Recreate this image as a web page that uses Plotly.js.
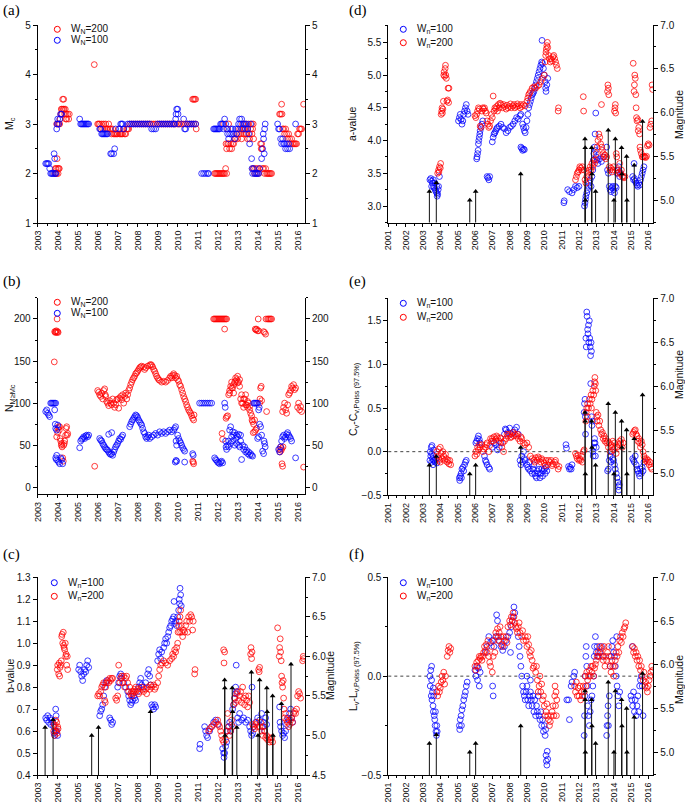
<!DOCTYPE html>
<html><head><meta charset="utf-8">
<script src="https://cdn.plot.ly/plotly-3.0.1.min.js"></script>
<style>html,body{margin:0;padding:0;background:#fff}#plot{width:685px;height:802px}</style>
</head><body><div id="plot"></div>
<script>
// ---- data: [decimal year, value] ----
const mcW200 = [[2003.85,2.0],[2003.88,2.1],[2003.9,2.0],[2003.92,2.1],[2003.95,2.0],[2003.97,2.3],[2004.0,2.1],[2004.02,2.0],[2004.05,2.1],[2004.08,2.1],[2003.95,3.0],[2004.0,3.0],[2004.05,3.0],[2004.1,3.0],[2004.12,3.1],[2004.15,3.2],[2004.18,3.3],[2004.2,3.2],[2004.22,3.3],[2004.25,3.5],[2004.28,3.3],[2004.3,3.5],[2004.32,3.3],[2004.35,3.2],[2004.38,3.3],[2004.4,3.1],[2004.42,3.2],[2004.45,3.1],[2004.5,3.2],[2004.55,3.1],[2004.58,3.2],
[2005.83,4.2],
[2006.0,3.0],[2006.05,3.0],[2006.1,3.0],[2006.15,2.9],[2006.2,3.0],[2006.25,2.9],[2006.3,3.0],[2006.35,2.9],[2006.4,3.0],[2006.45,2.9],[2006.5,2.9],[2006.55,3.0],[2006.6,2.9],[2006.65,2.9],[2006.7,2.8],[2006.75,2.9],[2006.8,2.8],[2006.85,2.8],[2006.9,2.8],[2006.95,2.8],[2007.0,2.8],[2007.05,2.9],[2007.1,2.8],[2007.15,2.8],[2007.2,2.8],[2007.25,2.8],[2007.3,2.9],[2007.35,2.8],[2007.4,2.8],[2007.45,2.9],[2007.5,2.9],[2007.55,2.9],
[2007.6,3.0],[2007.7,3.0],[2007.8,3.0],[2007.9,3.0],[2008.0,3.0],[2008.1,3.0],[2008.2,3.0],[2008.3,3.0],[2008.4,3.0],[2008.5,3.0],[2008.6,3.0],[2008.7,3.0],[2008.8,3.0],[2008.9,3.0],[2009.0,3.0],[2009.1,3.0],[2009.2,3.0],[2009.3,3.0],[2009.4,3.0],[2009.5,3.0],[2009.6,3.0],[2009.7,3.0],[2009.8,3.0],[2009.9,3.0],[2010.0,3.0],[2010.1,3.0],[2010.2,3.0],[2010.3,3.0],[2010.4,3.0],[2010.5,3.0],[2010.6,3.0],[2010.7,3.0],[2010.8,3.0],[2010.9,3.0],
[2010.75,3.5],[2010.8,3.5],[2010.85,3.5],[2010.9,3.5],[2010.93,2.9],
[2011.85,2.0],[2011.9,2.0],[2011.95,2.0],[2012.0,2.0],[2012.05,2.0],[2012.1,2.0],[2012.15,2.0],[2012.2,2.0],[2012.25,2.0],[2012.3,2.0],[2012.35,2.0],[2012.4,2.1],[2012.45,2.0],
[2012.42,2.6],[2012.45,2.5],[2012.5,2.6],[2012.55,2.6],[2012.6,2.5],[2012.65,2.6],[2012.7,2.5],[2012.75,2.6],[2012.8,2.6],[2012.5,2.9],[2012.55,3.0],[2012.3,3.0],
[2012.85,2.7],[2012.9,2.7],[2012.95,2.8],[2013.0,2.7],[2013.05,2.8],[2013.1,2.9],[2013.15,2.8],[2013.2,2.9],[2013.25,3.0],[2013.3,2.8],[2013.35,2.9],[2013.4,3.0],[2013.45,2.8],[2013.5,2.9],[2013.55,3.0],[2013.6,2.8],[2013.65,2.9],[2013.7,3.0],[2013.2,2.7],[2013.3,2.9],[2013.4,2.8],[2013.5,2.7],[2013.6,2.7],[2013.72,2.8],[2013.75,2.9],[2013.78,3.0],[2013.8,2.7],
[2013.75,2.1],[2013.8,2.1],[2013.85,2.0],[2013.9,2.1],[2013.95,2.0],[2014.0,2.1],[2014.05,2.0],[2014.1,2.1],[2014.15,2.6],[2014.18,2.5],[2014.2,2.6],[2014.22,2.5],[2014.25,2.1],[2014.3,2.1],[2014.35,2.0],[2014.4,2.1],[2014.45,2.0],[2014.5,2.0],[2014.55,2.0],[2014.6,2.0],[2014.65,2.0],[2014.7,2.0],
[2015.1,3.2],[2015.15,3.2],[2015.2,3.4],[2015.22,3.2],[2015.25,2.9],[2015.3,2.9],[2015.35,2.8],[2015.4,2.9],[2015.45,2.8],[2015.5,2.7],[2015.55,2.8],[2015.6,2.7],[2015.65,2.6],[2015.7,2.7],[2015.75,2.6],[2015.8,2.6],[2015.85,2.6],[2015.9,2.6],[2015.95,2.6],[2016.0,2.8],[2016.05,2.8],[2016.1,2.9],[2016.15,2.9],[2016.2,2.9],[2016.3,3.4]];
const mcW100 = [[2003.4,2.2],[2003.45,2.2],[2003.5,2.2],[2003.55,2.2],[2003.6,2.1],[2003.65,2.0],[2003.7,2.0],[2003.75,2.0],[2003.8,2.0],[2003.82,2.4],[2003.85,2.3],[2003.88,2.0],[2003.9,2.0],[2003.95,2.9],[2003.97,3.0],[2004.0,3.1],[2004.05,3.0],[2004.1,3.1],[2004.15,3.2],[2004.2,3.2],
[2005.1,3.1],[2005.15,3.0],[2005.2,3.0],[2005.25,3.0],[2005.3,3.0],[2005.35,3.0],[2005.4,3.0],[2005.45,3.0],[2005.5,3.0],[2005.55,3.0],
[2006.1,2.9],[2006.15,2.9],[2006.2,2.8],[2006.25,2.8],[2006.3,2.8],[2006.35,2.8],[2006.4,2.8],[2006.45,2.8],[2006.5,2.8],
[2006.65,2.4],[2006.7,2.4],[2006.8,2.4],[2006.85,2.5],[2006.9,2.9],
[2007.1,2.9],[2007.15,3.0],[2007.2,3.0],[2007.25,3.0],[2007.3,2.9],
[2007.5,3.0],[2007.6,3.0],[2007.7,3.0],[2007.8,3.0],[2007.9,3.0],[2008.0,3.0],[2008.1,3.0],[2008.2,3.0],[2008.3,3.0],[2008.4,3.0],[2008.5,3.0],[2008.6,3.0],[2008.7,2.9],[2008.8,2.9],[2008.9,2.9],[2009.0,3.0],[2009.1,3.0],[2009.2,3.0],[2009.3,3.0],[2009.4,3.0],[2009.5,3.0],[2009.6,3.0],[2009.7,3.0],[2009.8,3.0],[2009.85,3.0],[2009.9,3.1],[2009.92,3.2],[2009.95,3.3],[2010.0,3.3],[2010.02,3.2],[2010.05,3.0],[2010.3,3.1],[2010.35,2.9],[2010.4,2.9],[2010.5,3.0],[2010.6,3.0],[2010.7,3.0],[2010.8,3.0],[2010.9,3.0],
[2011.2,2.0],[2011.3,2.0],[2011.4,2.0],[2011.5,2.0],[2011.55,2.0],
[2011.8,2.9],[2011.85,2.9],[2011.9,2.9],[2011.95,2.9],[2012.0,2.9],[2012.05,2.9],[2012.1,2.9],[2012.15,3.0],[2012.2,3.0],[2012.25,3.0],[2012.3,2.9],[2012.35,3.1],[2012.4,3.0],[2012.45,2.9],[2012.5,2.8],[2012.55,2.7],[2012.6,2.8],[2012.65,2.9],[2012.7,2.8],[2012.75,2.9],[2012.8,2.8],[2012.85,2.7],[2012.9,2.9],[2012.95,2.8],
[2013.0,2.9],[2013.05,3.0],[2013.1,3.1],[2013.15,3.0],[2013.2,3.1],[2013.25,2.9],[2013.3,3.0],[2013.35,3.0],[2013.4,2.9],[2013.45,3.0],[2013.5,2.9],[2013.55,2.8],[2013.6,2.6],[2013.65,3.0],[2013.7,2.3],[2013.72,2.1],[2013.75,2.0],[2013.8,2.1],[2013.85,2.0],[2013.9,2.0],[2013.95,2.0],[2014.0,2.0],[2014.05,2.0],[2014.1,2.1],
[2014.2,2.3],[2014.25,2.5],[2014.28,2.8],[2014.3,2.7],[2014.33,2.4],[2014.35,2.9],[2014.38,3.0],
[2015.0,3.0],[2015.05,2.9],[2015.1,2.9],[2015.15,2.7],[2015.2,2.6],[2015.25,2.7],[2015.3,2.6],[2015.35,2.6],[2015.4,2.5],[2015.45,2.6],[2015.5,2.5],[2015.55,2.6],[2015.6,2.5],[2015.9,3.0]];

const nW200 = [[2003.83,149],[2003.85,185],[2003.88,184],[2003.9,185],[2003.93,186],[2003.95,184],[2003.97,200],[2004.0,185],[2004.02,184],
[2003.95,60],[2004.0,65],[2004.02,70],[2004.05,72],[2004.08,68],[2004.1,72],[2004.12,58],[2004.15,55],[2004.18,50],[2004.2,52],[2004.22,48],[2004.25,35],[2004.28,31],[2004.3,50],[2004.33,52],[2004.35,55],[2004.4,62],[2004.42,70],[2004.45,72],[2004.48,62],[2004.5,64],
[2005.85,25],
[2006.0,115],[2006.05,113],[2006.1,110],[2006.15,108],[2006.2,112],[2006.25,105],[2006.3,115],[2006.35,117],[2006.38,110],[2006.4,108],[2006.45,102],[2006.5,100],[2006.55,97],[2006.6,103],[2006.65,100],[2006.7,98],[2006.75,105],[2006.8,100],[2006.85,95],[2006.9,98],[2006.95,104],[2007.0,105],[2007.05,94],[2007.1,106],[2007.15,108],[2007.2,104],[2007.25,110],[2007.3,100],[2007.35,108],[2007.4,112],[2007.45,105],[2007.5,110],[2007.55,115],[2007.6,118],[2007.65,122],[2007.7,125],[2007.75,128],[2007.8,130],[2007.85,132],[2007.9,135],[2007.95,136],[2008.0,138],[2008.05,140],[2008.1,142],[2008.15,143],[2008.2,144],[2008.3,143],[2008.35,140],[2008.4,142],[2008.5,144],[2008.6,145],[2008.65,146],[2008.7,145],[2008.75,143],[2008.8,140],[2008.85,138],[2008.9,135],[2008.95,132],[2009.0,130],[2009.05,128],[2009.1,127],[2009.2,125],[2009.3,126],[2009.4,125],[2009.5,127],[2009.6,130],[2009.65,132],[2009.7,130],[2009.75,133],[2009.8,135],[2009.85,133],[2009.9,130],[2009.95,132],[2010.0,128],[2010.05,126],[2010.1,122],[2010.15,120],[2010.2,116],[2010.25,112],[2010.3,108],[2010.35,105],[2010.4,102],[2010.45,98],[2010.5,95],[2010.55,92],[2010.6,90],[2010.65,88],[2010.7,85],[2010.75,82],[2010.8,80],[2010.82,86],[2010.78,30],[2010.8,28],[2010.75,31],
[2011.8,200],[2011.85,200],[2011.9,200],[2011.95,200],[2012.0,200],[2012.05,200],[2012.1,200],[2012.15,200],[2012.2,200],[2012.25,200],[2012.3,200],[2012.35,200],[2012.4,200],[2012.45,200],[2012.35,188],
[2012.22,64],[2012.25,57],
[2012.42,82],[2012.45,84],[2012.5,85],[2012.55,110],[2012.6,115],[2012.65,120],[2012.7,125],[2012.75,118],[2012.8,112],[2012.85,125],[2012.9,130],[2012.95,128],[2013.0,132],[2013.05,125],[2013.1,128],[2013.15,105],[2013.2,110],[2013.25,100],[2013.3,95],[2013.35,105],[2013.4,110],[2013.45,98],[2013.5,95],[2013.55,100],[2013.6,92],[2013.65,88],[2013.7,85],[2013.72,80],[2013.75,78],[2013.8,75],[2013.85,80],[2013.78,65],[2013.85,66],[2013.9,68],[2013.95,70],
[2012.6,112],[2012.7,118],[2012.8,122],[2012.9,126],[2013.0,124],[2013.1,120],[2013.2,100],[2013.3,105],[2013.4,98],[2013.5,102],[2013.6,96],
[2013.88,188],[2013.92,187],[2013.95,188],[2014.0,186],[2014.05,186],[2014.03,200],
[2014.1,100],[2014.12,105],[2014.15,118],[2014.18,120],[2014.2,103],
[2014.3,185],[2014.35,184],[2014.4,182],[2014.42,200],[2014.5,200],[2014.55,200],[2014.6,200],[2014.65,200],[2014.7,200],[2014.45,90],
[2015.1,45],[2015.12,42],[2015.15,48],[2015.18,44],[2015.2,46],[2015.22,28],[2015.25,25],[2015.27,48],
[2015.25,90],[2015.3,95],[2015.35,100],[2015.4,92],[2015.45,88],[2015.5,98],[2015.55,110],[2015.6,112],[2015.65,115],[2015.7,120],[2015.75,118],[2015.8,122],[2015.85,116],[2015.9,118],
[2016.0,95],[2016.05,100],[2016.1,92],[2016.15,96],[2016.2,90],[2016.3,24]];
const nW100 = [[2003.4,90],[2003.45,92],[2003.5,88],[2003.55,86],[2003.6,84],[2003.65,100],[2003.7,100],[2003.75,100],[2003.8,100],[2003.85,100],[2003.9,100],[2003.85,92],[2003.88,75],[2003.9,70],[2003.95,68],[2004.0,74],
[2003.9,35],[2003.93,33],[2003.95,38],[2004.0,32],[2004.05,30],[2004.1,28],[2004.15,35],[2004.2,33],[2004.25,28],
[2005.1,47],[2005.15,55],[2005.2,57],[2005.25,58],[2005.3,60],[2005.35,58],[2005.4,61],[2005.45,62],[2005.5,60],[2005.55,62],
[2006.1,58],[2006.15,56],[2006.2,55],[2006.25,52],[2006.3,50],[2006.35,48],[2006.4,46],[2006.45,45],[2006.5,44],[2006.55,42],[2006.6,40],[2006.65,39],[2006.7,40],[2006.75,38],[2006.8,42],[2006.85,45],[2006.9,48],[2006.95,50],[2007.0,52],[2007.05,55],[2007.1,58],[2007.15,57],[2007.2,60],[2007.25,62],[2006.55,63],[2006.7,65],
[2007.6,72],[2007.65,75],[2007.7,78],[2007.75,80],[2007.8,82],[2007.85,84],[2007.9,86],[2007.95,85],[2008.0,83],[2008.05,80],[2008.1,78],[2008.15,76],[2008.2,74],[2008.25,70],[2008.3,66],[2008.35,64],[2008.4,60],[2008.45,58],[2008.5,60],[2008.55,62],[2008.6,58],[2008.7,60],[2008.8,62],[2008.9,64],[2009.0,62],[2009.1,66],[2009.2,64],[2009.3,66],[2009.4,64],[2009.5,66],[2009.6,68],[2009.7,66],[2009.8,68],[2009.85,70],[2009.9,72],[2009.92,55],[2009.95,50],[2010.0,62],[2010.05,58],[2010.1,55],[2010.15,53],[2010.2,50],[2010.25,47],[2010.3,45],[2010.35,43],[2009.88,30],[2009.92,32],[2009.95,31],[2010.35,30],
[2010.75,40],[2010.78,38],
[2011.1,100],[2011.2,100],[2011.3,100],[2011.4,100],[2011.5,100],[2011.6,100],[2011.7,100],
[2011.85,35],[2011.9,33],[2011.95,32],[2012.0,30],[2012.05,29],[2012.1,28],[2012.15,30],[2012.2,31],[2012.25,29],
[2012.35,100],[2012.38,95],[2012.4,55],[2012.42,48],[2012.45,45],[2012.5,50],[2012.55,55],[2012.6,68],[2012.65,72],[2012.7,60],[2012.75,55],[2012.8,62],[2012.85,65],[2012.9,58],[2012.95,52],[2013.0,60],[2013.05,63],[2013.1,48],[2013.15,55],[2013.2,33],[2013.25,50],[2013.3,45],[2013.35,48],[2013.4,42],[2013.45,44],[2013.5,40],[2013.55,42],[2013.6,38],[2013.65,40],[2013.7,38],[2013.75,37],
[2012.55,48],[2012.65,52],[2012.75,66],[2012.85,50],[2012.95,62],[2013.05,50],[2013.15,62],
[2013.8,100],[2013.85,100],[2013.9,100],[2013.95,100],[2014.0,100],[2014.05,92],[2014.08,95],
[2014.0,58],[2014.05,60],[2014.1,75],[2014.15,72],[2014.2,62],
[2014.25,43],[2014.3,40],[2014.32,55],[2014.35,52],[2014.38,48],
[2015.05,45],[2015.1,42],[2015.15,48],[2015.2,55],[2015.25,60],[2015.3,62],[2015.35,58],[2015.4,60],[2015.45,63],[2015.5,65],[2015.55,62],[2015.6,60],[2015.65,58],[2015.7,55],[2015.9,35]];

const bW100 = [[2003.4,0.66],[2003.45,0.65],[2003.5,0.67],[2003.55,0.64],[2003.6,0.66],[2003.65,0.63],[2003.7,0.65],[2003.75,0.64],[2003.8,0.62],[2003.82,0.59],[2003.85,0.58],[2003.88,0.6],[2003.9,0.7],[2003.92,0.67],[2003.95,0.6],[2004.0,0.58],
[2005.05,0.88],[2005.1,0.9],[2005.15,0.87],[2005.2,0.85],[2005.25,0.83],[2005.3,0.86],[2005.35,0.88],[2005.4,0.87],[2005.45,0.9],[2005.5,0.92],[2005.55,0.89],
[2006.1,0.67],[2006.15,0.69],[2006.2,0.7],[2006.25,0.72],[2006.3,0.76],[2006.35,0.8],[2006.4,0.82],[2006.45,0.83],[2006.6,0.66],[2006.65,0.65],[2006.7,0.63],[2006.75,0.64],
[2007.0,0.8],[2007.05,0.82],[2007.1,0.85],[2007.15,0.86],[2007.2,0.84],[2007.3,0.82],[2007.4,0.8],[2007.5,0.78],[2007.55,0.76],[2007.6,0.74],[2007.65,0.72],[2007.7,0.73],[2007.75,0.74],[2007.8,0.76],[2007.85,0.75],[2007.9,0.74],[2008.0,0.78],[2008.05,0.8],[2008.1,0.82],[2008.15,0.84],[2008.2,0.81],[2008.3,0.8],[2008.4,0.82],[2008.5,0.86],[2008.55,0.88],[2008.6,0.85],[2008.65,0.81],[2008.7,0.72],[2008.75,0.71],[2008.8,0.7],[2008.85,0.72],[2008.9,0.71],
[2009.0,0.92],[2009.05,0.95],[2009.1,0.97],[2009.15,0.93],[2009.2,0.96],[2009.3,0.98],[2009.35,1.0],[2009.4,1.02],[2009.45,1.0],[2009.5,1.03],[2009.55,1.05],[2009.6,1.07],[2009.65,1.08],[2009.7,1.1],[2009.75,1.11],[2009.8,1.12],[2009.82,1.19],[2009.85,1.09],[2009.9,1.1],[2009.95,1.08],[2010.0,1.12],[2010.05,1.15],[2010.08,1.2],[2010.1,1.18],[2010.12,1.25],[2010.15,1.22],[2010.18,1.17],
[2011.1,0.52],[2011.12,0.54],[2011.35,0.62],[2011.4,0.6],[2011.45,0.58],[2011.5,0.57],[2011.6,0.6],[2011.7,0.62],[2011.8,0.64],[2011.9,0.65],[2012.0,0.63],
[2012.25,0.52],[2012.3,0.5],[2012.32,0.48],[2012.35,0.5],[2012.4,0.53],[2012.45,0.55],[2012.5,0.6],[2012.55,0.62],[2012.6,0.64],[2012.65,0.6],[2012.7,0.63],[2012.75,0.7],[2012.8,0.72],[2012.85,0.75],[2012.88,0.77],[2012.9,0.8],[2012.93,0.9],[2012.95,0.78],[2013.0,0.66],[2013.05,0.64],[2013.1,0.68],[2013.2,0.65],[2013.3,0.66],[2013.4,0.64],[2013.5,0.65],[2013.6,0.62],[2013.65,0.6],[2013.7,0.58],[2013.72,0.8],[2013.75,0.59],[2013.8,0.62],[2013.9,0.64],[2014.0,0.66],[2014.1,0.65],[2014.2,0.68],[2014.25,0.62],[2014.3,0.64],[2014.35,0.6],[2014.4,0.66],[2014.45,0.63],
[2015.1,0.71],[2015.12,0.64],[2015.15,0.62],[2015.2,0.6],[2015.25,0.58],[2015.3,0.59],[2015.35,0.57],[2015.4,0.6],[2015.45,0.63],[2015.5,0.66],[2015.55,0.65],[2015.6,0.68],[2015.65,0.7],[2015.7,0.66],[2015.75,0.64]];
const bW200 = [[2003.8,0.6],[2003.82,0.63],[2003.85,0.58],[2003.88,0.62],[2003.9,0.65],[2003.92,0.6],[2003.95,0.64],[2003.97,0.59],[2004.0,0.62],[2004.02,0.61],
[2003.98,0.88],[2004.0,0.9],[2004.05,0.86],[2004.08,0.91],[2004.1,0.85],[2004.12,0.89],[2004.15,0.9],[2004.18,0.92],
[2004.2,1.03],[2004.22,1.04],[2004.25,1.0],[2004.28,1.05],[2004.3,0.99],[2004.32,0.98],[2004.35,0.97],[2004.38,1.0],[2004.4,0.94],[2004.42,0.95],[2004.45,0.9],[2004.48,0.94],[2004.5,0.88],
[2006.0,0.76],[2006.05,0.77],[2006.1,0.76],[2006.15,0.78],[2006.2,0.8],[2006.25,0.81],[2006.3,0.82],[2006.35,0.74],[2006.38,0.73],[2006.4,0.8],[2006.45,0.82],[2006.5,0.83],[2006.55,0.82],[2006.6,0.84],[2006.65,0.83],[2006.7,0.84],[2006.75,0.84],[2006.9,0.75],[2006.95,0.74],[2007.0,0.76],[2007.05,0.9],[2007.1,0.82],[2007.15,0.84],[2007.2,0.85],[2007.25,0.82],[2007.3,0.85],[2007.35,0.8],[2007.4,0.84],[2007.45,0.85],[2007.5,0.82],[2007.55,0.78],[2007.6,0.8],[2007.65,0.77],[2007.7,0.78],[2007.75,0.77],[2007.8,0.78],[2007.85,0.79],[2007.9,0.78],[2008.0,0.79],[2008.1,0.78],[2008.2,0.8],[2008.3,0.78],[2008.4,0.79],[2008.5,0.8],[2008.6,0.79],[2008.7,0.8],[2008.8,0.81],[2008.9,0.8],[2009.0,0.82],[2009.05,0.85],[2009.1,0.88],[2009.15,0.9],[2009.2,0.91],[2009.3,0.92],[2009.4,0.91],[2009.5,0.9],[2009.6,0.92],[2009.7,0.93],[2009.75,0.95],[2009.8,0.94],[2009.85,0.97],[2009.9,0.96],[2009.95,0.98],[2010.0,1.0],[2010.02,1.05],[2010.05,1.08],[2010.08,1.1],[2010.1,1.05],[2010.12,1.12],[2010.15,1.15],[2010.18,1.08],[2010.2,1.05],[2010.25,1.03],[2010.3,1.06],[2010.35,1.05],[2010.4,1.08],[2010.45,1.1],[2010.5,1.05],[2010.55,1.12],[2010.6,1.1],[2010.65,1.13],[2010.7,1.12],[2010.75,1.06],[2010.78,1.1],[2010.85,0.86],[2010.87,0.88],
[2007.7,0.76],[2007.9,0.8],[2008.05,0.77],[2008.25,0.79],[2008.45,0.77],[2008.65,0.81],[2008.85,0.79],
[2011.55,0.6],[2011.6,0.61],[2011.7,0.62],[2011.8,0.63],[2011.9,0.64],[2012.0,0.65],[2012.05,0.63],[2012.1,0.62],[2012.15,0.6],[2012.2,0.58],[2012.25,0.56],[2012.3,0.55],[2012.3,0.97],[2012.32,0.91],[2012.35,0.96],
[2012.4,0.56],[2012.45,0.6],[2012.5,0.68],[2012.55,0.62],[2012.6,0.58],[2012.65,0.6],[2012.7,0.65],[2012.75,0.62],[2012.8,0.72],[2012.85,0.75],[2012.9,0.73],[2012.95,0.77],[2013.0,0.78],[2013.05,0.74],[2013.1,0.76],[2013.15,0.78],[2013.2,0.73],[2013.25,0.8],[2013.3,0.75],[2013.35,0.72],[2013.4,0.76],[2013.45,0.74],[2013.5,0.71],[2013.55,0.76],[2013.6,0.73],[2013.65,0.95],[2013.67,0.98],[2013.7,0.93],[2013.72,0.96],[2013.75,0.63],[2013.8,0.62],[2013.85,0.61],[2013.9,0.63],[2013.95,0.64],[2014.0,0.62],[2014.05,0.88],[2014.08,0.87],[2014.1,0.89],[2014.12,0.62],[2014.15,0.64],[2014.2,0.6],[2014.25,0.58],[2014.3,0.62],[2014.35,0.6],[2014.4,0.57],[2014.45,0.58],[2014.5,0.56],[2014.55,0.57],[2014.6,0.55],[2014.65,0.56],[2014.7,0.57],[2014.75,0.55],
[2015.0,1.07],[2015.08,0.94],[2015.1,0.98],[2015.13,1.02],[2015.15,0.96],[2015.18,0.92],[2015.2,0.85],[2015.22,0.82],[2015.25,0.8],[2015.28,0.83],[2015.3,0.75],[2015.32,0.7],[2015.35,0.66],[2015.4,0.68],[2015.45,0.65],[2015.5,0.64],[2015.55,0.62],[2015.6,0.63],[2015.65,0.65],[2015.7,0.66],[2015.75,0.64],[2015.8,0.68],[2015.85,0.69],[2015.9,0.68],[2015.95,0.7],[2016.0,0.76],[2016.05,0.78],[2016.1,0.77],[2016.15,0.75],[2016.25,0.92],[2016.28,0.94],[2016.3,0.93]];

const aW100 = [[2003.4,3.4],[2003.45,3.42],[2003.5,3.38],[2003.55,3.35],[2003.6,3.3],[2003.65,3.28],[2003.7,3.25],[2003.75,3.22],[2003.8,3.2],[2003.82,3.15],[2003.85,3.18],[2003.88,3.25],[2003.9,3.3],[2003.95,3.45],[2003.5,3.3],[2003.6,3.4],[2003.7,3.35],[2003.8,3.3],
[2005.05,4.3],[2005.1,4.35],[2005.15,4.4],[2005.2,4.32],[2005.25,4.25],[2005.3,4.3],[2005.35,4.4],[2005.4,4.45],[2005.45,4.5],[2005.5,4.55],[2005.55,4.45],[2005.6,4.4],
[2006.1,3.72],[2006.12,3.75],[2006.15,3.8],[2006.18,3.85],[2006.2,3.95],[2006.22,4.0],[2006.25,4.05],[2006.28,4.1],[2006.3,4.15],[2006.35,4.2],[2006.4,4.25],[2006.45,4.3],
[2006.7,3.45],[2006.75,3.43],[2006.8,3.4],[2006.85,3.45],
[2007.0,3.98],[2007.05,4.05],[2007.1,4.1],[2007.15,4.12],[2007.2,4.15],[2007.25,4.18],[2007.3,4.2],[2007.4,4.22],[2007.5,4.25],[2007.6,4.2],[2007.7,4.18],[2007.8,4.12],[2007.9,4.15],[2008.0,4.2],[2008.1,4.22],[2008.2,4.25],[2008.3,4.3],[2008.4,4.35],[2008.5,4.33],[2008.6,4.38],[2008.65,4.4],
[2008.65,3.9],[2008.7,3.88],[2008.75,3.85],[2008.8,3.87],[2008.85,3.86],
[2008.75,4.25],[2008.8,4.2],[2008.85,4.15],[2008.9,4.12],[2008.95,4.2],[2009.0,4.3],[2009.05,4.4],[2009.1,4.5],[2009.15,4.55],[2009.2,4.6],[2009.25,4.65],[2009.3,4.7],[2009.35,4.72],[2009.4,4.75],[2009.45,4.8],[2009.5,4.85],[2009.55,4.9],[2009.6,4.95],[2009.65,5.0],[2009.7,5.05],[2009.75,5.1],[2009.8,5.15],[2009.85,5.2],[2009.87,5.53],[2009.9,5.18],[2009.95,5.1],[2010.0,5.0],[2010.05,4.9],[2010.08,4.8],[2010.1,4.75],[2010.15,4.85],[2010.2,4.95],
[2011.13,3.05],[2011.15,3.08],[2011.35,3.25],[2011.45,3.22],[2011.6,3.2],[2011.7,3.25],[2011.8,3.3],[2011.9,3.28],[2012.0,3.3],
[2012.32,3.0],[2012.35,3.05],[2012.38,3.1],[2012.4,3.15],[2012.45,3.2],[2012.5,3.25],[2012.55,3.3],[2012.6,3.35],[2012.65,3.4],[2012.7,3.3],[2012.75,3.45],[2012.8,3.55],[2012.83,3.7],[2012.86,3.8],[2012.9,3.9],[2012.93,4.1],[2012.95,3.85],[2012.97,4.42],[2013.0,3.75],[2013.05,3.7],[2013.1,3.65],[2013.2,3.72],[2013.3,3.68],[2013.4,3.75],
[2013.6,3.9],[2013.65,3.55],[2013.7,3.5],[2013.75,3.3],[2013.8,3.25],[2013.85,3.22],[2013.9,3.28],[2013.95,3.3],[2014.0,3.25],[2014.05,3.2],[2014.1,3.3],[2014.15,3.28],[2014.2,3.5],[2014.25,3.55],[2014.3,3.6],[2014.35,3.45],[2014.4,3.5],
[2015.1,3.45],[2015.15,3.4],[2015.18,3.65],[2015.2,3.42],[2015.25,3.38],[2015.3,3.35],[2015.35,3.32],[2015.4,3.3],[2015.45,3.35],[2015.5,3.32],[2015.55,3.4],[2015.6,3.45],[2015.65,3.5],[2015.7,3.55],[2015.75,3.6]];
const aW200 = [[2003.85,3.5],[2003.9,3.55],[2003.95,3.6],[2004.0,3.58],[2004.02,3.65],[2003.92,3.52],
[2004.05,4.4],[2004.08,4.45],[2004.1,4.5],[2004.12,4.42],[2004.15,4.48],[2004.18,4.6],[2004.2,5.0],[2004.22,5.05],[2004.25,4.98],[2004.28,5.1],[2004.3,5.15],[2004.32,5.0],[2004.35,4.95],[2004.38,4.6],[2004.42,4.62],[2004.45,4.8],[2004.5,4.8],[2004.48,4.58],
[2006.0,4.38],[2006.05,4.35],[2006.1,4.4],[2006.15,4.45],[2006.2,4.5],[2006.25,4.48],[2006.3,4.22],[2006.35,4.2],[2006.4,4.45],[2006.45,4.5],[2006.5,4.48],[2006.55,4.5],[2006.6,4.45],[2006.65,4.42],[2006.7,4.3],[2006.75,4.25],[2006.8,4.2],[2006.85,4.22],[2006.9,4.3],[2006.95,4.4],[2007.0,4.35],[2007.05,4.68],[2007.1,4.45],[2007.15,4.5],[2007.2,4.48],[2007.25,4.52],[2007.3,4.45],[2007.35,4.55],[2007.4,4.5],[2007.5,4.55],[2007.6,4.5],[2007.7,4.52],[2007.8,4.48],[2007.9,4.5],[2008.0,4.52],[2008.1,4.5],[2008.2,4.53],[2008.3,4.5],[2008.4,4.52],[2008.5,4.53],[2008.6,4.5],[2008.7,4.52],[2008.8,4.55],[2008.9,4.53],[2009.0,4.6],[2009.05,4.65],[2009.1,4.7],[2009.15,4.72],[2009.2,4.75],[2009.3,4.8],[2009.4,4.82],[2009.5,4.8],[2009.6,4.83],[2009.7,4.85],[2009.8,4.9],[2009.9,4.95],[2010.0,5.0],[2010.05,5.2],[2010.08,5.3],[2010.1,5.35],[2010.12,5.4],[2010.15,5.45],[2010.18,5.5],[2010.2,5.42],[2010.25,5.3],[2010.3,5.25],[2010.35,5.2],[2010.4,5.25],[2010.45,5.22],[2010.5,5.28],[2010.55,5.3],[2010.6,5.25],[2010.65,5.2],[2010.7,5.15],[2010.75,5.1],[2010.8,4.45],[2010.82,4.5],
[2007.45,4.57],[2007.65,4.55],[2007.85,4.54],[2008.05,4.56],[2008.25,4.55],[2008.45,4.56],[2008.65,4.55],
[2011.8,3.4],[2011.85,3.45],[2011.9,3.5],[2011.95,3.52],[2012.0,3.55],[2012.05,3.6],[2012.1,3.58],[2012.15,3.55],[2012.2,3.6],[2012.25,4.67],[2012.27,4.45],[2012.3,3.55],[2012.35,3.4],[2012.4,3.35],[2012.45,3.45],[2012.5,3.5],[2012.55,3.45],[2012.6,3.55],[2012.65,3.6],[2012.7,3.55],[2012.75,3.65],[2012.8,3.6],[2012.85,3.7],[2012.9,3.65],[2012.95,3.7],[2013.0,3.8],[2013.05,3.9],[2013.1,4.0],[2013.15,4.1],[2013.2,4.05],[2013.25,3.95],[2013.3,4.55],[2013.32,3.9],[2013.35,3.85],[2013.4,3.8],[2013.45,3.75],[2013.5,3.78],[2013.55,3.72],[2013.6,3.75],[2013.65,4.75],[2013.67,4.85],[2013.7,4.8],[2013.72,4.7],[2013.75,3.6],[2013.8,3.55],[2013.85,3.58],[2013.9,3.52],[2013.95,3.55],[2014.0,3.6],[2014.05,4.45],[2014.08,4.5],[2014.1,4.55],[2014.12,4.42],[2014.15,3.8],[2014.18,3.75],[2014.2,3.55],[2014.25,3.5],[2014.3,3.52],[2014.35,3.65],[2014.4,3.5],[2014.45,3.55],[2014.5,3.45],[2014.55,3.45],[2014.6,3.43],[2014.65,3.45],
[2015.13,5.18],[2015.18,4.75],[2015.2,4.85],[2015.22,5.0],[2015.25,4.95],[2015.28,4.7],[2015.3,4.5],[2015.32,4.35],[2015.35,4.3],[2015.4,4.32],[2015.42,4.15],[2015.45,4.2],[2015.5,4.1],[2015.52,3.9],[2015.55,3.85],[2015.6,3.8],[2015.65,3.75],[2015.7,3.75],[2015.75,3.76],[2015.8,3.75],[2015.85,3.74],[2015.9,3.76],[2015.95,3.92],[2016.0,3.95],[2016.05,3.93],[2016.1,4.2],[2016.15,4.25],[2016.2,4.3],[2016.22,4.85],[2016.25,4.78]];

const cvW100 = [[2003.4,-0.1],[2003.42,0.0],[2003.45,-0.05],[2003.48,0.05],[2003.5,-0.12],[2003.52,0.07],[2003.55,-0.08],[2003.58,-0.15],[2003.6,-0.05],[2003.62,0.02],[2003.65,-0.1],[2003.7,-0.12],[2003.75,-0.08],[2003.8,-0.13],[2003.5,-0.02],[2003.6,-0.1],
[2005.1,-0.3],[2005.12,-0.33],[2005.15,-0.28],[2005.2,-0.25],[2005.22,-0.3],[2005.25,-0.2],[2005.3,-0.18],[2005.35,-0.22],[2005.4,-0.15],[2005.45,-0.12],[2005.5,-0.1],
[2006.05,0.1],[2006.1,0.12],[2006.15,0.15],[2006.2,0.18],[2006.25,0.14],[2006.3,0.1],
[2006.55,-0.05],[2006.6,-0.1],[2006.65,-0.12],[2006.7,-0.15],[2006.8,-0.18],[2006.85,-0.2],
[2007.0,0.05],[2007.1,0.1],[2007.2,0.08],[2007.3,0.02],[2007.4,0.05],[2007.5,0.1],
[2007.7,0.2],[2007.75,0.26],[2007.8,0.25],[2007.9,0.22],[2008.0,0.27],[2008.1,0.2],[2008.2,0.22],[2008.3,0.25],[2008.4,0.28],[2008.5,0.2],
[2008.6,-0.1],[2008.65,-0.15],[2008.7,-0.05],[2008.75,-0.12],[2008.8,0.0],[2008.85,-0.08],[2008.9,-0.1],[2009.0,-0.15],[2009.05,-0.18],[2009.1,-0.2],[2009.15,-0.12],[2009.2,-0.22],[2009.3,-0.25],[2009.35,-0.2],[2009.4,-0.15],[2009.45,-0.25],[2009.5,-0.28],[2009.55,-0.3],[2009.6,-0.22],[2009.65,-0.25],[2009.7,-0.2],[2009.75,-0.3],[2009.8,-0.25],[2009.85,-0.2],[2009.9,-0.28],[2009.95,-0.22],[2010.0,-0.2],[2010.05,-0.25],[2010.1,-0.18],[2010.15,-0.22],
[2011.25,0.08],[2011.28,0.04],[2011.4,-0.17],[2011.45,-0.2],[2011.5,-0.18],[2011.55,-0.2],[2011.6,-0.15],
[2012.3,0.45],[2012.32,0.55],[2012.35,0.6],[2012.37,0.4],[2012.38,0.2],[2012.4,1.3],[2012.42,1.2],[2012.45,1.6],[2012.47,1.55],[2012.5,1.4],[2012.52,1.35],[2012.55,1.45],[2012.57,1.25],[2012.6,1.5],[2012.62,1.3],[2012.65,1.2],[2012.67,1.1],[2012.7,1.25],[2012.72,1.15],[2012.68,0.78],[2012.73,0.4],[2012.75,0.3],[2012.78,0.35],[2012.8,0.0],[2012.82,-0.05],[2012.85,0.05],[2012.88,0.1],[2012.9,0.15],[2012.93,0.1],[2012.95,-0.05],[2013.0,0.05],
[2013.65,-0.22],[2013.7,-0.2],[2013.75,-0.1],[2013.8,-0.05],[2013.85,-0.12],[2013.9,0.0],[2013.95,-0.08],[2014.0,-0.1],[2014.05,-0.15],[2014.1,-0.2],[2014.15,-0.25],[2014.2,-0.3],[2014.25,-0.35],[2014.28,-0.4],[2014.3,-0.44],[2014.33,-0.38],
[2015.1,-0.08],[2015.15,-0.1],[2015.2,-0.12],[2015.25,-0.05],[2015.3,-0.15],[2015.35,-0.2],[2015.4,-0.22],[2015.45,-0.25],[2015.5,-0.28],[2015.55,-0.2],[2015.6,-0.25],[2015.65,-0.18],[2015.7,-0.22],[2015.75,-0.12]];
const cvW200 = [[2003.8,0.0],[2003.85,-0.05],[2003.9,0.03],[2003.95,-0.1],[2004.0,0.05],[2004.05,-0.02],[2004.1,-0.08],[2004.15,0.0],[2004.2,-0.05],[2004.25,-0.1],[2004.3,-0.03],[2004.35,-0.08],[2004.4,-0.12],[2004.45,-0.1],[2004.5,-0.14],[2004.55,-0.1],[2004.6,-0.15],[2003.9,-0.08],[2004.0,-0.12],
[2006.0,-0.05],[2006.05,0.0],[2006.1,-0.03],[2006.15,0.05],[2006.2,0.02],[2006.3,0.05],[2006.4,0.08],[2006.5,0.03],[2006.6,0.05],[2006.7,0.1],[2006.8,0.0],[2006.85,0.07],[2006.9,0.15],[2006.95,0.12],[2007.0,0.15],[2007.1,0.17],[2007.2,0.14],[2007.3,0.16],[2007.4,0.12],[2007.5,0.15],[2007.55,0.05],[2007.6,0.1],[2007.65,0.0],[2007.7,0.12],[2007.8,0.15],[2007.9,0.18],[2008.0,0.2],[2008.1,0.17],[2008.2,0.22],[2008.3,0.2],[2008.4,0.18],[2008.5,0.15],[2008.6,0.12],[2008.7,0.15],[2008.8,0.1],[2008.9,0.08],[2009.0,0.1],[2009.1,0.05],[2009.2,-0.05],[2009.3,-0.08],[2009.4,-0.1],[2009.5,-0.07],[2009.6,-0.1],[2009.7,-0.08],[2009.8,-0.12],[2009.9,-0.1],[2010.0,-0.13],[2010.1,-0.1],[2010.2,-0.15],[2010.3,-0.12],[2010.4,-0.1],[2010.5,-0.14],[2010.6,-0.12],[2010.7,-0.15],[2010.8,-0.2],[2010.85,-0.17],
[2006.25,0.08],[2006.45,0.0],[2006.65,0.08],[2007.05,0.12],[2007.25,0.18],[2007.45,0.16],[2007.85,0.2],[2008.05,0.16],[2008.25,0.18],[2008.45,0.2],[2008.65,0.17],[2009.45,-0.12],[2009.65,-0.06],[2009.85,-0.08],[2010.05,-0.16],[2010.25,-0.1],[2010.45,-0.16],[2010.65,-0.1],
[2011.8,-0.02],[2011.85,-0.05],[2011.9,-0.08],[2011.95,-0.04],[2012.0,-0.1],[2012.05,-0.08],[2012.1,-0.1],[2012.15,-0.05],[2012.2,-0.12],[2012.25,0.0],[2012.3,0.02],
[2012.4,0.35],[2012.42,0.45],[2012.45,0.5],[2012.48,0.4],[2012.5,0.55],[2012.55,0.5],[2012.6,0.6],[2012.65,0.55],[2012.7,0.65],[2012.72,0.5],[2012.75,0.6],[2012.8,0.7],[2012.85,0.65],[2012.88,0.75],[2012.9,0.8],[2012.92,0.85],[2012.95,0.78],[2012.97,0.7],[2013.0,0.45],[2013.02,0.4],[2013.05,0.35],[2013.1,0.42],[2013.15,0.3],[2013.2,0.35],[2013.25,0.25],[2013.3,0.2],[2013.35,0.22],[2013.4,0.15],[2013.45,0.18],[2013.5,0.12],[2013.55,0.15],[2013.6,0.1],[2013.65,0.12],[2013.7,0.05],[2013.75,0.1],[2013.8,0.0],[2013.85,0.08],[2013.9,0.05],[2013.95,0.12],[2014.0,0.02],[2014.05,0.1],[2014.1,0.05],[2014.15,-0.02],[2014.2,0.05],[2014.3,0.08],[2014.35,0.12],[2014.4,0.1],[2014.45,0.14],[2014.5,0.05],[2014.55,0.1],
[2015.1,0.2],[2015.15,0.22],[2015.2,0.24],[2015.25,0.25],[2015.3,0.2],[2015.35,0.18],[2015.4,0.12],[2015.45,0.15],[2015.5,0.1],[2015.55,0.05],[2015.6,0.12],[2015.65,0.08],[2015.7,0.0],[2015.75,-0.05],[2015.8,-0.08],[2015.85,-0.1],[2015.9,-0.08],[2015.95,-0.12],[2016.0,-0.1],[2016.05,-0.15],[2016.1,-0.12],[2016.15,-0.18],[2016.2,-0.2]];

const lvW100 = [[2003.4,0.0],[2003.42,-0.05],[2003.45,0.03],[2003.48,-0.1],[2003.5,0.05],[2003.52,-0.12],[2003.55,-0.08],[2003.58,-0.15],[2003.6,-0.18],[2003.62,-0.1],[2003.65,-0.2],[2003.68,-0.22],[2003.7,-0.25],[2003.72,-0.18],[2003.75,-0.28],[2003.78,-0.3],[2003.8,-0.25],[2003.82,-0.28],[2003.5,-0.02],[2003.6,-0.06],
[2005.1,-0.25],[2005.12,-0.27],[2005.15,-0.22],[2005.2,-0.2],[2005.22,-0.25],[2005.25,-0.17],[2005.3,-0.15],[2005.35,-0.12],[2005.4,-0.1],[2005.45,-0.08],[2005.5,-0.05],[2005.55,-0.03],
[2006.0,0.03],[2006.05,0.0],[2006.1,0.05],[2006.15,-0.02],[2006.2,0.04],[2006.25,-0.05],[2006.3,0.02],
[2006.6,0.12],[2006.7,0.15],[2006.8,0.2],[2006.9,0.17],[2007.0,0.18],[2007.02,-0.05],[2007.05,-0.1],[2007.1,0.15],[2007.2,0.2],[2007.25,0.31],[2007.3,0.28],[2007.35,0.2],[2007.4,0.18],[2007.5,0.15],[2007.6,0.13],[2007.7,0.15],[2007.8,0.18],[2007.9,0.2],[2008.0,0.22],[2008.05,0.12],[2008.1,0.25],[2008.15,0.28],[2008.2,0.3],[2008.25,0.35],[2008.3,0.32],
[2008.5,0.2],[2008.55,0.15],[2008.6,0.1],[2008.65,0.05],[2008.7,0.0],[2008.75,-0.05],[2008.8,-0.08],[2008.85,-0.1],[2008.9,-0.12],[2008.95,-0.08],[2009.0,-0.05],[2009.05,-0.12],[2009.1,-0.15],[2009.15,-0.1],[2009.2,-0.08],[2009.25,-0.12],[2009.3,-0.15],[2009.35,-0.1],[2009.4,-0.18],[2009.45,-0.12],[2009.5,-0.2],[2009.55,-0.15],[2009.6,-0.18],[2009.65,-0.1],[2009.7,-0.2],[2009.75,-0.22],[2009.8,-0.18],[2009.85,-0.25],[2009.9,-0.22],[2009.95,-0.28],[2010.0,-0.25],[2010.05,-0.3],[2010.08,-0.27],[2010.1,-0.4],[2010.12,-0.43],[2010.15,-0.45],[2010.17,-0.38],[2010.2,-0.42],[2009.0,0.0],[2009.2,-0.02],
[2011.3,-0.12],[2011.4,-0.12],[2011.45,-0.22],[2011.55,-0.05],[2011.6,-0.03],[2011.7,0.0],[2011.75,0.02],
[2012.3,-0.3],[2012.32,-0.2],[2012.35,-0.1],[2012.37,0.0],[2012.4,0.1],[2012.42,0.15],[2012.45,0.05],[2012.48,-0.05],[2012.5,-0.15],[2012.55,-0.2],[2012.6,-0.25],[2012.65,-0.18],[2012.7,-0.12],[2012.75,-0.1],[2012.8,-0.05],[2012.85,0.0],[2012.88,0.1],[2012.9,0.15],[2012.95,0.2],[2013.0,0.12],[2013.05,0.15],[2013.1,0.1],[2013.2,0.12],[2013.3,0.15],[2013.4,0.1],
[2013.6,-0.3],[2013.62,-0.25],[2013.65,-0.2],[2013.68,-0.15],[2013.7,-0.25],[2013.75,-0.1],[2013.8,0.05],[2013.85,0.1],[2013.9,0.15],[2013.95,0.18],[2014.0,0.12],[2014.05,0.1],[2014.1,0.05],[2014.15,0.0],[2014.18,0.2],[2014.2,-0.05],[2014.25,-0.1],[2014.3,-0.15],[2014.35,-0.08],
[2015.0,-0.1],[2015.05,-0.12],[2015.08,0.15],[2015.1,-0.15],[2015.15,-0.08],[2015.2,-0.18],[2015.25,-0.12],[2015.3,-0.2],[2015.35,-0.15],[2015.4,-0.1],[2015.45,-0.18],[2015.5,-0.05],[2015.55,-0.02],[2015.6,0.0],[2015.65,-0.05],[2015.7,-0.2]];
const lvW200 = [[2003.8,-0.08],[2003.85,-0.1],[2003.9,-0.05],[2003.95,-0.08],[2004.0,-0.06],[2004.05,-0.03],[2004.1,0.0],[2004.15,-0.02],[2004.2,0.02],[2004.25,-0.04],[2004.3,0.0],
[2004.4,0.1],[2004.45,0.13],[2004.5,0.15],[2004.55,0.12],[2004.6,0.14],
[2006.0,0.05],[2006.05,0.03],[2006.1,0.07],[2006.15,0.05],[2006.2,0.08],[2006.25,0.1],[2006.3,0.09],[2006.35,0.1],[2006.4,0.08],[2006.45,0.1],[2006.5,0.12],[2006.55,0.15],[2006.6,0.13],[2006.65,0.16],[2006.7,0.12],[2006.75,0.18],[2006.8,0.1],[2006.85,0.07],[2006.9,0.05],[2006.95,0.15],[2007.0,0.02],[2007.05,0.1],[2007.1,0.18],[2007.15,0.12],[2007.2,0.22],[2007.25,0.2],[2007.3,0.24],[2007.35,0.18],[2007.4,0.22],[2007.45,0.25],[2007.5,0.2],[2007.55,0.16],[2007.6,0.15],[2007.7,0.18],[2007.8,0.2],[2007.9,0.25],[2008.0,0.28],[2008.05,0.26],[2008.1,0.3],[2008.15,0.28],[2008.2,0.32],[2008.25,0.3],[2008.3,0.27],[2008.35,0.25],[2008.4,0.24],[2008.5,0.25],[2008.6,0.22],[2008.7,0.2],[2008.8,0.18],[2008.9,0.2],[2009.0,0.15],[2009.05,0.2],[2009.1,0.16],[2009.15,0.12],[2009.2,0.1],[2009.3,0.08],[2009.4,0.05],[2009.5,0.02],[2009.6,-0.02],[2009.7,-0.05],[2009.8,-0.08],[2009.9,-0.12],[2010.0,-0.15],[2010.1,-0.18],[2010.2,-0.2],[2010.25,-0.22],[2010.3,-0.25],[2010.35,-0.23],[2010.4,-0.2],[2010.45,-0.18],[2010.5,-0.15],[2010.55,-0.2],[2010.6,-0.1],[2010.62,-0.05],[2010.65,-0.15],[2010.68,-0.08],[2010.7,-0.2],[2010.72,-0.12],
[2007.65,0.2],[2007.85,0.17],[2008.45,0.22],[2008.55,0.27],[2008.75,0.23],[2008.95,0.18],[2009.25,0.13],[2009.35,0.04],[2009.55,0.05],[2009.65,-0.08],[2009.75,0.0],[2009.85,-0.04],[2009.95,-0.1],[2010.05,-0.2],[2010.15,-0.14],
[2011.75,-0.05],[2011.8,-0.08],[2011.85,-0.03],[2011.9,-0.1],[2011.95,-0.06],[2012.0,-0.1],[2012.05,-0.05],[2012.1,-0.12],[2012.15,-0.08],[2012.2,-0.1],[2012.25,-0.05],[2012.3,-0.08],[2012.35,0.0],[2012.4,-0.05],[2012.45,0.02],[2012.5,-0.02],[2012.55,0.0],[2012.6,0.03],[2012.65,0.0],[2012.7,0.05],[2012.75,0.02],[2012.8,0.05],[2012.85,0.0],[2012.9,0.04],[2012.95,0.06],[2013.0,0.08],[2013.05,0.1],[2013.1,0.12],[2013.15,0.1],[2013.2,0.15],[2013.25,0.12],[2013.3,0.14],[2013.35,0.1],[2013.4,0.08],[2013.45,0.15],[2013.5,0.05],[2013.55,0.1],[2013.6,0.08],[2013.65,0.12],[2013.7,0.15],[2013.75,0.1],[2013.8,0.05],[2013.85,0.02],[2013.9,0.08],[2013.95,0.05],[2014.0,0.0],[2014.05,0.05],[2014.1,0.08],[2014.15,0.12],[2014.2,0.1],[2014.25,0.15],[2014.3,0.12],[2014.35,0.18],[2014.4,0.2],[2014.45,0.17],[2014.5,0.22],[2014.55,0.2],[2014.6,0.24],[2014.65,0.25],[2014.7,0.27],
[2015.1,0.15],[2015.15,0.12],[2015.2,0.14],[2015.25,0.1],[2015.3,0.12],[2015.35,0.08],[2015.4,0.1],[2015.45,0.05],[2015.5,0.08],[2015.55,0.03],[2015.6,0.05],[2015.65,0.0],[2015.7,-0.02],[2015.75,0.02],[2015.8,-0.05],[2015.85,-0.03],[2015.9,-0.06],[2015.95,-0.08],[2016.0,-0.05],[2016.05,-0.02],[2016.1,0.0],[2016.15,0.02],[2016.2,0.05],[2016.25,0.03]];

// earthquakes: time and magnitude
const eqTime = [2003.37,2003.77,2005.70,2006.04,2008.64,2012.35,2012.36,2012.37,2012.73,2012.75,2012.96,2013.69,2014.02,2014.10,2014.46,2014.48,2014.75,2014.77,2015.19,2015.67];
const eqMag  = [5.1,5.2,5.0,5.1,5.3,5.7,5.6,5.0,5.6,5.3,5.1,5.8,5.0,5.7,5.6,5.3,5.5,5.0,5.4,5.9];

const yearTicksA = [2003,2004,2005,2006,2007,2008,2009,2010,2011,2012,2013,2014,2015,2016];
const yearTicksD = [2001,2002,2003,2004,2005,2006,2007,2008,2009,2010,2011,2012,2013,2014,2015,2016];

// ---- build ----
const W=685,H=802;
const px=v=>v/W, py=v=>1-v/H;
const RED='rgb(255,0,0)', BLUE='rgb(0,0,255)';
const FONT='Liberation Sans, Arial, sans-serif';
function pts(arr,color,xa,ya){
  return {type:'scatter',mode:'markers',x:arr.map(p=>p[0]),y:arr.map(p=>p[1]),xaxis:xa,yaxis:ya,
    marker:{symbol:'circle-open',size:5.8,color:color,opacity:0.85,line:{width:0.9,color:color}},showlegend:false,hoverinfo:'skip'};
}
function empty(xa,ya){return {type:'scatter',mode:'markers',x:[],y:[],xaxis:xa,yaxis:ya,showlegend:false};}
function quakes(xa,ya,bottom){
  const lx=[],ly=[];
  eqTime.forEach((t,i)=>{lx.push(t,t,null);ly.push(bottom,eqMag[i],null);});
  return [
    {type:'scatter',mode:'lines',x:lx,y:ly,xaxis:xa,yaxis:ya,line:{color:'#111',width:1},showlegend:false,hoverinfo:'skip'},
    {type:'scatter',mode:'markers',x:eqTime,y:eqMag,xaxis:xa,yaxis:ya,marker:{symbol:'triangle-up',size:5,color:'#000'},showlegend:false,hoverinfo:'skip'}
  ];
}
const tf={family:FONT,size:10,color:'#111'};
function xax(dom,anchor,range,vals){
  return {domain:dom,anchor:anchor,range:range,tickmode:'array',tickvals:vals,ticktext:vals.map(String),tickangle:-90,
    ticks:'outside',ticklen:3,tickwidth:1,tickcolor:'#000',showline:true,linecolor:'#000',linewidth:1,showgrid:false,zeroline:false,
    tickfont:{family:FONT,size:9,color:'#111'},minor:{ticks:'outside',ticklen:2,tickcolor:'#000',dtick:0.5,tick0:2000,showgrid:false},fixedrange:true};
}
function yax(dom,anchor,range,tick0,dtick,mdt,fmt,side,over){
  const o={domain:dom,anchor:anchor,range:range,tick0:tick0,dtick:dtick,tickformat:fmt,side:side||'left',
    ticks:'outside',ticklen:4,tickwidth:1,tickcolor:'#000',showline:true,linecolor:'#000',linewidth:1,showgrid:false,zeroline:false,
    tickfont:tf,fixedrange:true};
  if(mdt) o.minor={ticks:'outside',ticklen:2,tickcolor:'#000',dtick:mdt,tick0:tick0,showgrid:false};
  if(over) o.overlaying=over;
  return o;
}
const xL=[px(37.7),px(305)], xR=[px(388.3),px(653.3)];
const rTop=[py(223),py(25)], rMid=[py(494.3),py(297.7)], rBot=[py(775),py(577.3)];
const rMidR=[py(495.3),py(298.3)], rTopR=[py(222.7),py(25)];
const rangeA=[2003,2016.37], rangeD=[2001,2016.29];
const m5={c:4.5,d:4.745,e:4.757,f:4.74};

const data=[
  pts(mcW200,RED,'x','y'), pts(mcW100,BLUE,'x','y'), empty('x','y2'),
  pts(nW200,RED,'x2','y3'), pts(nW100,BLUE,'x2','y3'), empty('x2','y4'),
  pts(bW100,BLUE,'x3','y5'), pts(bW200,RED,'x3','y5'), ...quakes('x3','y6',m5.c),
  pts(aW100,BLUE,'x4','y7'), pts(aW200,RED,'x4','y7'), ...quakes('x4','y8',m5.d),
  pts(cvW100,BLUE,'x5','y9'), pts(cvW200,RED,'x5','y9'), ...quakes('x5','y10',m5.e),
  pts(lvW100,BLUE,'x6','y11'), pts(lvW200,RED,'x6','y11'), ...quakes('x6','y12',m5.f)
];

const layout={width:W,height:H,margin:{l:0,r:0,t:0,b:0},paper_bgcolor:'#fff',plot_bgcolor:'#fff',showlegend:false,
  font:{family:FONT,size:10,color:'#111'},
  xaxis:xax(xL,'y',rangeA,yearTicksA),
  yaxis:yax(rTop,'x',[1,5],1,1,0.5,'d'),
  yaxis2:yax(rTop,'x',[1,5],1,1,0.5,'d','right','y'),
  xaxis2:xax(xL,'y3',rangeA,yearTicksA),
  yaxis3:yax(rMid,'x2',[-8.3,225.3],0,50,25,'d'),
  yaxis4:yax(rMid,'x2',[-8.3,225.3],0,50,25,'d','right','y3'),
  xaxis3:xax(xL,'y5',rangeA,yearTicksA),
  yaxis5:yax(rBot,'x3',[0.4,1.3],0.4,0.1,null,'.1f'),
  yaxis6:yax(rBot,'x3',[4.5,7.0],4.5,0.5,0.25,'.1f','right','y5'),
  xaxis4:xax(xR,'y7',rangeD,yearTicksD),
  yaxis7:yax(rTopR,'x4',[2.745,5.765],3,0.5,0.25,'.1f'),
  yaxis8:yax(rTopR,'x4',[4.745,7.0],5,0.5,0.25,'.1f','right','y7'),
  xaxis5:xax(xR,'y9',rangeD,yearTicksD),
  yaxis9:yax(rMidR,'x5',[-0.5,1.757],-0.5,0.5,0.25,'.1f'),
  yaxis10:yax(rMidR,'x5',[4.757,7.0],5,0.5,0.25,'.1f','right','y9'),
  xaxis6:xax(xR,'y11',rangeD,yearTicksD),
  yaxis11:yax(rBot,'x6',[-0.5,0.5],-0.5,0.5,0.25,'.1f'),
  yaxis12:yax(rBot,'x6',[4.74,7.0],5,0.5,0.25,'.1f','right','y11'),
  shapes:[], annotations:[]
};
// zero reference lines
[['x5','y9'],['x6','y11']].forEach(([xa,ya])=>layout.shapes.push({type:'line',xref:xa+' domain',x0:0,x1:1,yref:ya,y0:0,y1:0,line:{color:'#444',width:1,dash:'dot'},layer:'below'}));
// panel labels
const SERIF='Liberation Serif, Times New Roman, serif';
[['(a)',1,10],['(d)',347,10],['(b)',1,281],['(e)',347,281],['(c)',1,554],['(f)',347,554]].forEach(([t,x,y])=>
  layout.annotations.push({text:t,xref:'paper',yref:'paper',x:px(x),y:py(y),xanchor:'left',yanchor:'middle',showarrow:false,font:{family:SERIF,size:15,color:'#000'}}));
// axis titles
function ytitle(t,x,y){layout.annotations.push({text:t,xref:'paper',yref:'paper',x:px(x),y:py(y),xanchor:'center',yanchor:'middle',textangle:-90,showarrow:false,font:{family:FONT,size:10.5,color:'#111'}});}
ytitle('M<sub>c</sub>',10,124);
ytitle('N<sub>M≥Mc</sub>',10,398);
ytitle('b-value',10,676);
ytitle('a-value',352,124);
ytitle('C<sub>v</sub>-C<sub>v,Poiss (97.5%)</sub>',354,400);
ytitle('L<sub>v</sub>-L<sub>v,Poiss (97.5%)</sub>',354,676);
ytitle('Magnitude',330,676);
ytitle('Magnitude',679,115);
ytitle('Magnitude',679,375);
ytitle('Magnitude',679,680);
// legends (symbol + text)
function leg(x,y,color,t){
  layout.shapes.push({type:'circle',xref:'paper',yref:'paper',xsizemode:'pixel',ysizemode:'pixel',xanchor:px(x),yanchor:py(y),x0:-3,x1:3,y0:-3,y1:3,line:{color:color,width:1}});
  layout.annotations.push({text:t,xref:'paper',yref:'paper',x:px(x+12),y:py(y),xanchor:'left',yanchor:'middle',showarrow:false,font:{family:FONT,size:10,color:'#111'}});
}
leg(57.3,29.3,RED,'W<sub>N</sub>=200'); leg(57.3,40.3,BLUE,'W<sub>N</sub>=100');
leg(57.3,302.3,RED,'W<sub>N</sub>=200'); leg(57.3,313.3,BLUE,'W<sub>N</sub>=100');
leg(54.3,582.7,BLUE,'W<sub>n</sub>=100'); leg(54.3,596.3,RED,'W<sub>n</sub>=200');
leg(403.3,29.3,BLUE,'W<sub>n</sub>=100'); leg(403.3,42.7,RED,'W<sub>n</sub>=200');
leg(403.3,303.3,BLUE,'W<sub>n</sub>=100'); leg(403.3,317.3,RED,'W<sub>n</sub>=200');
leg(403.3,582.7,BLUE,'W<sub>n</sub>=100'); leg(403.3,596,RED,'W<sub>n</sub>=200');

Plotly.newPlot('plot',data,layout,{staticPlot:true,displayModeBar:false});
</script></body></html>
